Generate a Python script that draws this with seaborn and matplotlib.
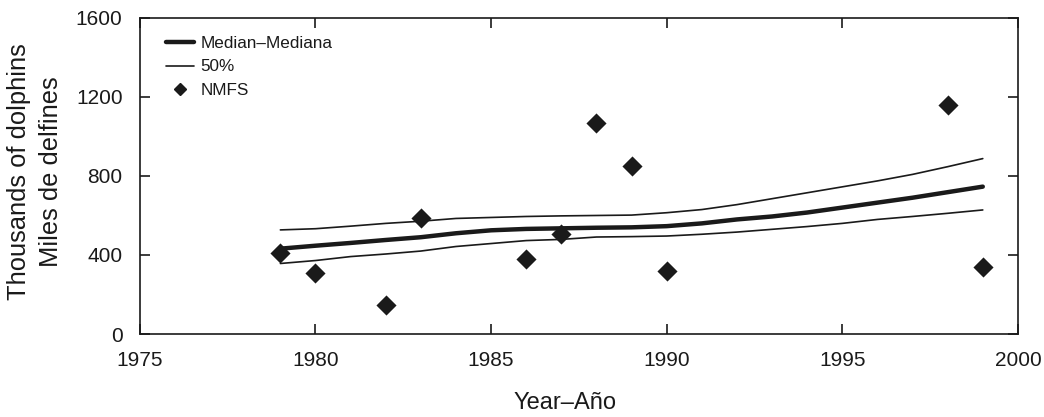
import matplotlib
matplotlib.use("Agg")
import matplotlib.pyplot as plt
from matplotlib.lines import Line2D
import seaborn as sns
import pandas as pd

years = list(range(1979, 2000))
median = [432, 447, 461, 476, 490, 510, 525, 532, 535, 538, 540, 546,
          560, 580, 595, 615, 640, 665, 690, 718, 746]
upper = [527, 533, 546, 560, 571, 585, 590, 595, 598, 600, 602, 614,
         630, 655, 685, 715, 745, 775, 808, 847, 888]
lower = [357, 372, 392, 405, 420, 443, 458, 473, 479, 491, 493, 496,
         505, 516, 530, 544, 560, 580, 595, 611, 628]

nmfs_years = [1979, 1980, 1982, 1983, 1986, 1987, 1988, 1989, 1990, 1998, 1999]
nmfs_values = [408, 310, 146, 585, 380, 505, 1066, 853, 318, 1157, 338]

df = pd.DataFrame({'year': years, 'median': median, 'upper': upper, 'lower': lower})
pts = pd.DataFrame({'year': nmfs_years, 'value': nmfs_values})

sns.set_style('ticks')
plt.rcParams['font.family'] = ['Liberation Sans', 'DejaVu Sans']

ink = '#1a1a1a'
fig = plt.figure(figsize=(10.44, 4.17), dpi=100)
ax = fig.add_axes([0.134, 0.199, 0.841, 0.758])

sns.lineplot(data=df, x='year', y='upper', color=ink, linewidth=1.2, ax=ax)
sns.lineplot(data=df, x='year', y='lower', color=ink, linewidth=1.2, ax=ax)
sns.lineplot(data=df, x='year', y='median', color=ink, linewidth=3.2, ax=ax)
sns.scatterplot(data=pts, x='year', y='value', marker='D', s=105, color=ink,
                edgecolor=ink, linewidth=0, ax=ax, zorder=5)

ax.set_xlim(1975, 2000)
ax.set_ylim(0, 1600)
ax.set_xticks([1975, 1980, 1985, 1990, 1995, 2000])
ax.set_yticks([0, 400, 800, 1200, 1600])
ax.tick_params(direction='in', top=True, right=True, length=7, width=1.2,
               labelsize=15, colors=ink, pad=12.5)
for sp in ax.spines.values():
    sp.set_visible(True)
    sp.set_linewidth(1.2)
    sp.set_color(ink)

ax.set_xlabel('Year\u2013A\u00f1o', fontsize=17, color=ink)
ax.xaxis.set_label_coords(0.484, -0.183)
ax.set_ylabel('Thousands of dolphins\nMiles de delfines', fontsize=18.4,
              color=ink, linespacing=1.4)
ax.yaxis.set_label_coords(-0.088, 0.515)

handles = [Line2D([], [], color=ink, linewidth=3.2),
           Line2D([], [], color=ink, linewidth=1.2),
           Line2D([], [], color=ink, linestyle='none', marker='D', markersize=6)]
ax.legend(handles, ['Median\u2013Mediana', '50%', 'NMFS'], loc='upper left',
          frameon=False, fontsize=12.3, handlelength=1.63, handletextpad=0.4,
          labelspacing=0.47, bbox_to_anchor=(0.012, 0.99), labelcolor=ink)

fig.savefig('out.png', dpi=100)
